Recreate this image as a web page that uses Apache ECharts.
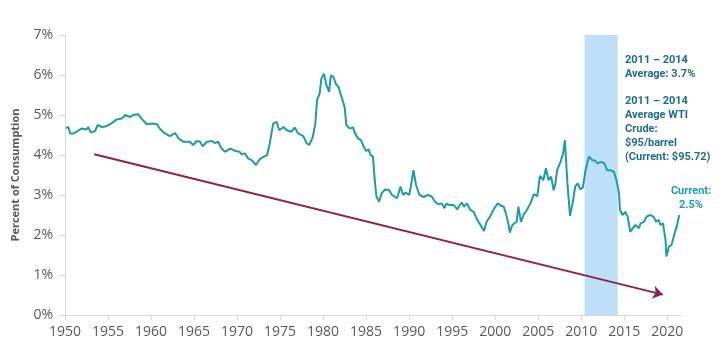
<!DOCTYPE html>
<html>
<head>
<meta charset="utf-8">
<script src="https://cdn.jsdelivr.net/npm/echarts@6/dist/echarts.min.js"></script>
<style>html,body{margin:0;padding:0;background:#fff}#c{width:722px;height:360px}</style>
</head>
<body>
<div id="c"></div>
<script>
// Years (decimal) and energy expenditure share of consumption (%)
const years = [
1950.1,1950.4,1950.6,1951.0,1951.5,1951.9,1952.5,1952.7,1953.0,1953.5,1953.8,1954.3,1954.8,1955.4,1956.0,1956.6,1957.0,1957.6,1957.9,1958.5,1958.9,1959.5,1960.1,1960.7,1961.0,1961.6,1962.2,1962.8,1963.2,
1963.8,1964.5,1964.9,1965.3,1965.7,1966.0,1966.5,1967.1,1967.4,1967.8,1968.2,1968.6,1969.2,1969.8,1970.3,1970.5,1970.9,1971.3,1971.7,1972.2,1972.6,1973.1,1973.5,1973.8,1974.2,1974.6,1974.9,1975.4,1975.8,1976.3,1976.7,1977.1,1977.7,1978.1,1978.4,
1978.8,1979.1,1979.3,1979.6,1979.8,1980.1,1980.4,1980.7,1980.9,1981.2,1981.5,1981.8,1982.2,1982.5,1982.7,1983.1,1983.5,1983.7,1984.1,1984.4,1984.7,1985.0,1985.3,1985.5,1985.8,1986.0,1986.2,1986.5,1986.8,1987.2,1987.7,1988.0,1988.6,1989.0,1989.3,1989.6,1990.0,1990.2,1990.5,1990.8,1991.2,
1991.7,1992.2,1992.6,1993.0,1993.4,1993.8,1994.1,1994.3,1994.7,1995.2,1995.6,1995.9,1996.1,1996.4,1996.7,1997.1,1997.5,1997.9,1998.3,1998.7,1999.0,1999.4,1999.8,2000.3,2000.7,2001.0,2001.3,2001.6,2001.7,2002.0,2002.5,2002.7,2003.0,2003.3,2003.7,2004.1,2004.5,2004.9,
2005.2,2005.6,2005.9,2006.2,2006.5,2006.8,2007.0,2007.2,2007.6,2007.9,2008.1,2008.4,2008.7,2009.0,2009.3,2009.6,2009.9,2010.2,2010.5,2010.9,2011.3,2011.6,2011.9,2012.3,2012.7,2013.0,2013.4,2013.8,2014.1,2014.4,2014.5,2014.8,2015.1,2015.4,2015.7,2016.0,2016.3,2016.7,2016.9,2017.3,2017.6,2018.0,2018.4,2018.7,2019.0,2019.2,2019.5,2019.8,2019.9,2020.2,2020.5,2020.8,2021.1,2021.4
];
const share = [
4.67,4.70,4.54,4.54,4.60,4.66,4.64,4.70,4.56,4.60,4.75,4.70,4.72,4.79,4.89,4.91,5.00,4.95,5.00,5.02,4.91,4.77,4.79,4.77,4.66,4.54,4.47,4.55,4.41,
4.33,4.33,4.25,4.35,4.33,4.22,4.33,4.35,4.30,4.33,4.16,4.08,4.16,4.10,4.08,4.02,4.04,3.91,3.87,3.75,3.89,3.96,4.00,4.29,4.79,4.83,4.62,4.70,4.62,4.58,4.69,4.54,4.47,4.29,4.25,
4.45,4.79,5.37,5.54,5.91,6.03,5.74,5.58,5.99,5.95,5.77,5.70,5.41,5.20,4.75,4.66,4.69,4.54,4.41,4.37,4.22,4.10,4.14,4.00,3.96,3.37,2.96,2.83,3.04,3.14,3.12,3.00,2.92,3.21,3.00,3.06,3.00,3.21,3.62,3.25,3.00,
2.95,3.00,2.97,2.83,2.77,2.79,2.67,2.78,2.75,2.75,2.64,2.75,2.81,2.71,2.79,2.63,2.58,2.39,2.25,2.10,2.33,2.46,2.63,2.79,2.73,2.71,2.50,2.21,2.06,2.25,2.33,2.71,2.33,2.50,2.63,2.79,3.02,2.97,
3.48,3.37,3.67,3.37,3.46,3.12,3.29,3.62,3.83,4.04,4.37,3.29,2.48,2.79,3.21,3.29,3.14,3.19,3.62,3.96,3.87,3.86,3.79,3.83,3.79,3.62,3.62,3.58,3.37,3.04,2.63,2.50,2.58,2.46,2.08,2.17,2.25,2.17,2.29,2.33,2.46,2.50,2.46,2.33,2.38,2.25,2.29,1.88,1.46,1.71,1.75,2.00,2.21,2.50
];
// Highlight band (2011–2014) in years
const bandYears = [2010.4, 2014.25];
// Trend arrow endpoints [year, percent]
const trendStart = [1953.4, 4.02];
const trendEnd = [2019.5, 0.51];
// Axis settings
const xMin = 1950, xMax = 2021.6, xStep = 5;
const yMin = 0, yMax = 7, yStep = 1;
const yTitle = 'Percent of Consumption';
const noteAvg = '2011 – 2014\nAverage: 3.7%';
const noteWti = '2011 – 2014\nAverage WTI\nCrude:\n$95/barrel\n(Current: $95.72)';
const noteCur = 'Current:\n2.5%';

const lineData = years.map((y, i) => [y, share[i]]);
const chart = echarts.init(document.getElementById('c'), null, {renderer: 'canvas'});
const axisFont = '"Open Sans", "Noto Sans", sans-serif';
chart.setOption({
  animation: false,
  grid: {left: 65, right: 41, top: 35, bottom: 45, containLabel: false},
  xAxis: {
    type: 'value', min: xMin, max: xMax, interval: xStep,
    axisLine: {show: true, lineStyle: {color: '#D9D9D9', width: 1}},
    axisTick: {show: true, length: 5, lineStyle: {color: '#D9D9D9'}},
    splitLine: {show: false},
    axisLabel: {color: '#595959', fontSize: 14, fontFamily: axisFont, margin: 10, showMaxLabel: false,
      formatter: v => (Math.abs(v - Math.round(v)) < 1e-6 && Math.round(v) % 5 === 0) ? String(Math.round(v)) : ''}
  },
  yAxis: {
    type: 'value', min: yMin, max: yMax, interval: yStep,
    name: yTitle, nameLocation: 'middle', nameRotate: 90, nameGap: 44,
    nameTextStyle: {color: '#595959', fontSize: 11, fontWeight: 'bold', fontFamily: axisFont},
    axisLine: {show: true, lineStyle: {color: '#D9D9D9', width: 1}},
    axisTick: {show: true, length: 5, lineStyle: {color: '#D9D9D9'}},
    splitLine: {show: false},
    axisLabel: {color: '#595959', fontSize: 14, fontFamily: axisFont, margin: 12, formatter: '{value}%'}
  },
  series: [
    {
      type: 'line', data: lineData, showSymbol: false, symbol: 'none',
      lineStyle: {color: '#1E9CA6', width: 2}, z: 3,
      markArea: {
        silent: true, itemStyle: {color: '#BDE0F8'},
        data: [[{xAxis: bandYears[0]}, {xAxis: bandYears[1]}]]
      },
      markLine: {
        silent: true, symbol: ['none', 'arrow'], symbolSize: 10,
        lineStyle: {color: '#8B2350', width: 2, type: 'solid'},
        label: {show: false},
        data: [[{coord: trendStart}, {coord: trendEnd}]]
      }
    }
  ],
  graphic: [
    {type: 'text', left: 625, top: 53, z: 10, style: {text: noteAvg, fill: '#1E6B8F', font: 'bold 11px Roboto, "Open Sans", sans-serif', lineHeight: 14}},
    {type: 'text', left: 625, top: 94, z: 10, style: {text: noteWti, fill: '#1E6B8F', font: 'bold 11px Roboto, "Open Sans", sans-serif', lineHeight: 14}},
    {type: 'text', x: 691, y: 184, z: 10, style: {text: noteCur, fill: '#1E9CA6', font: 'bold 11px Roboto, "Open Sans", sans-serif', lineHeight: 14, align: 'center'}}
  ]
});
</script>
</body>
</html>
